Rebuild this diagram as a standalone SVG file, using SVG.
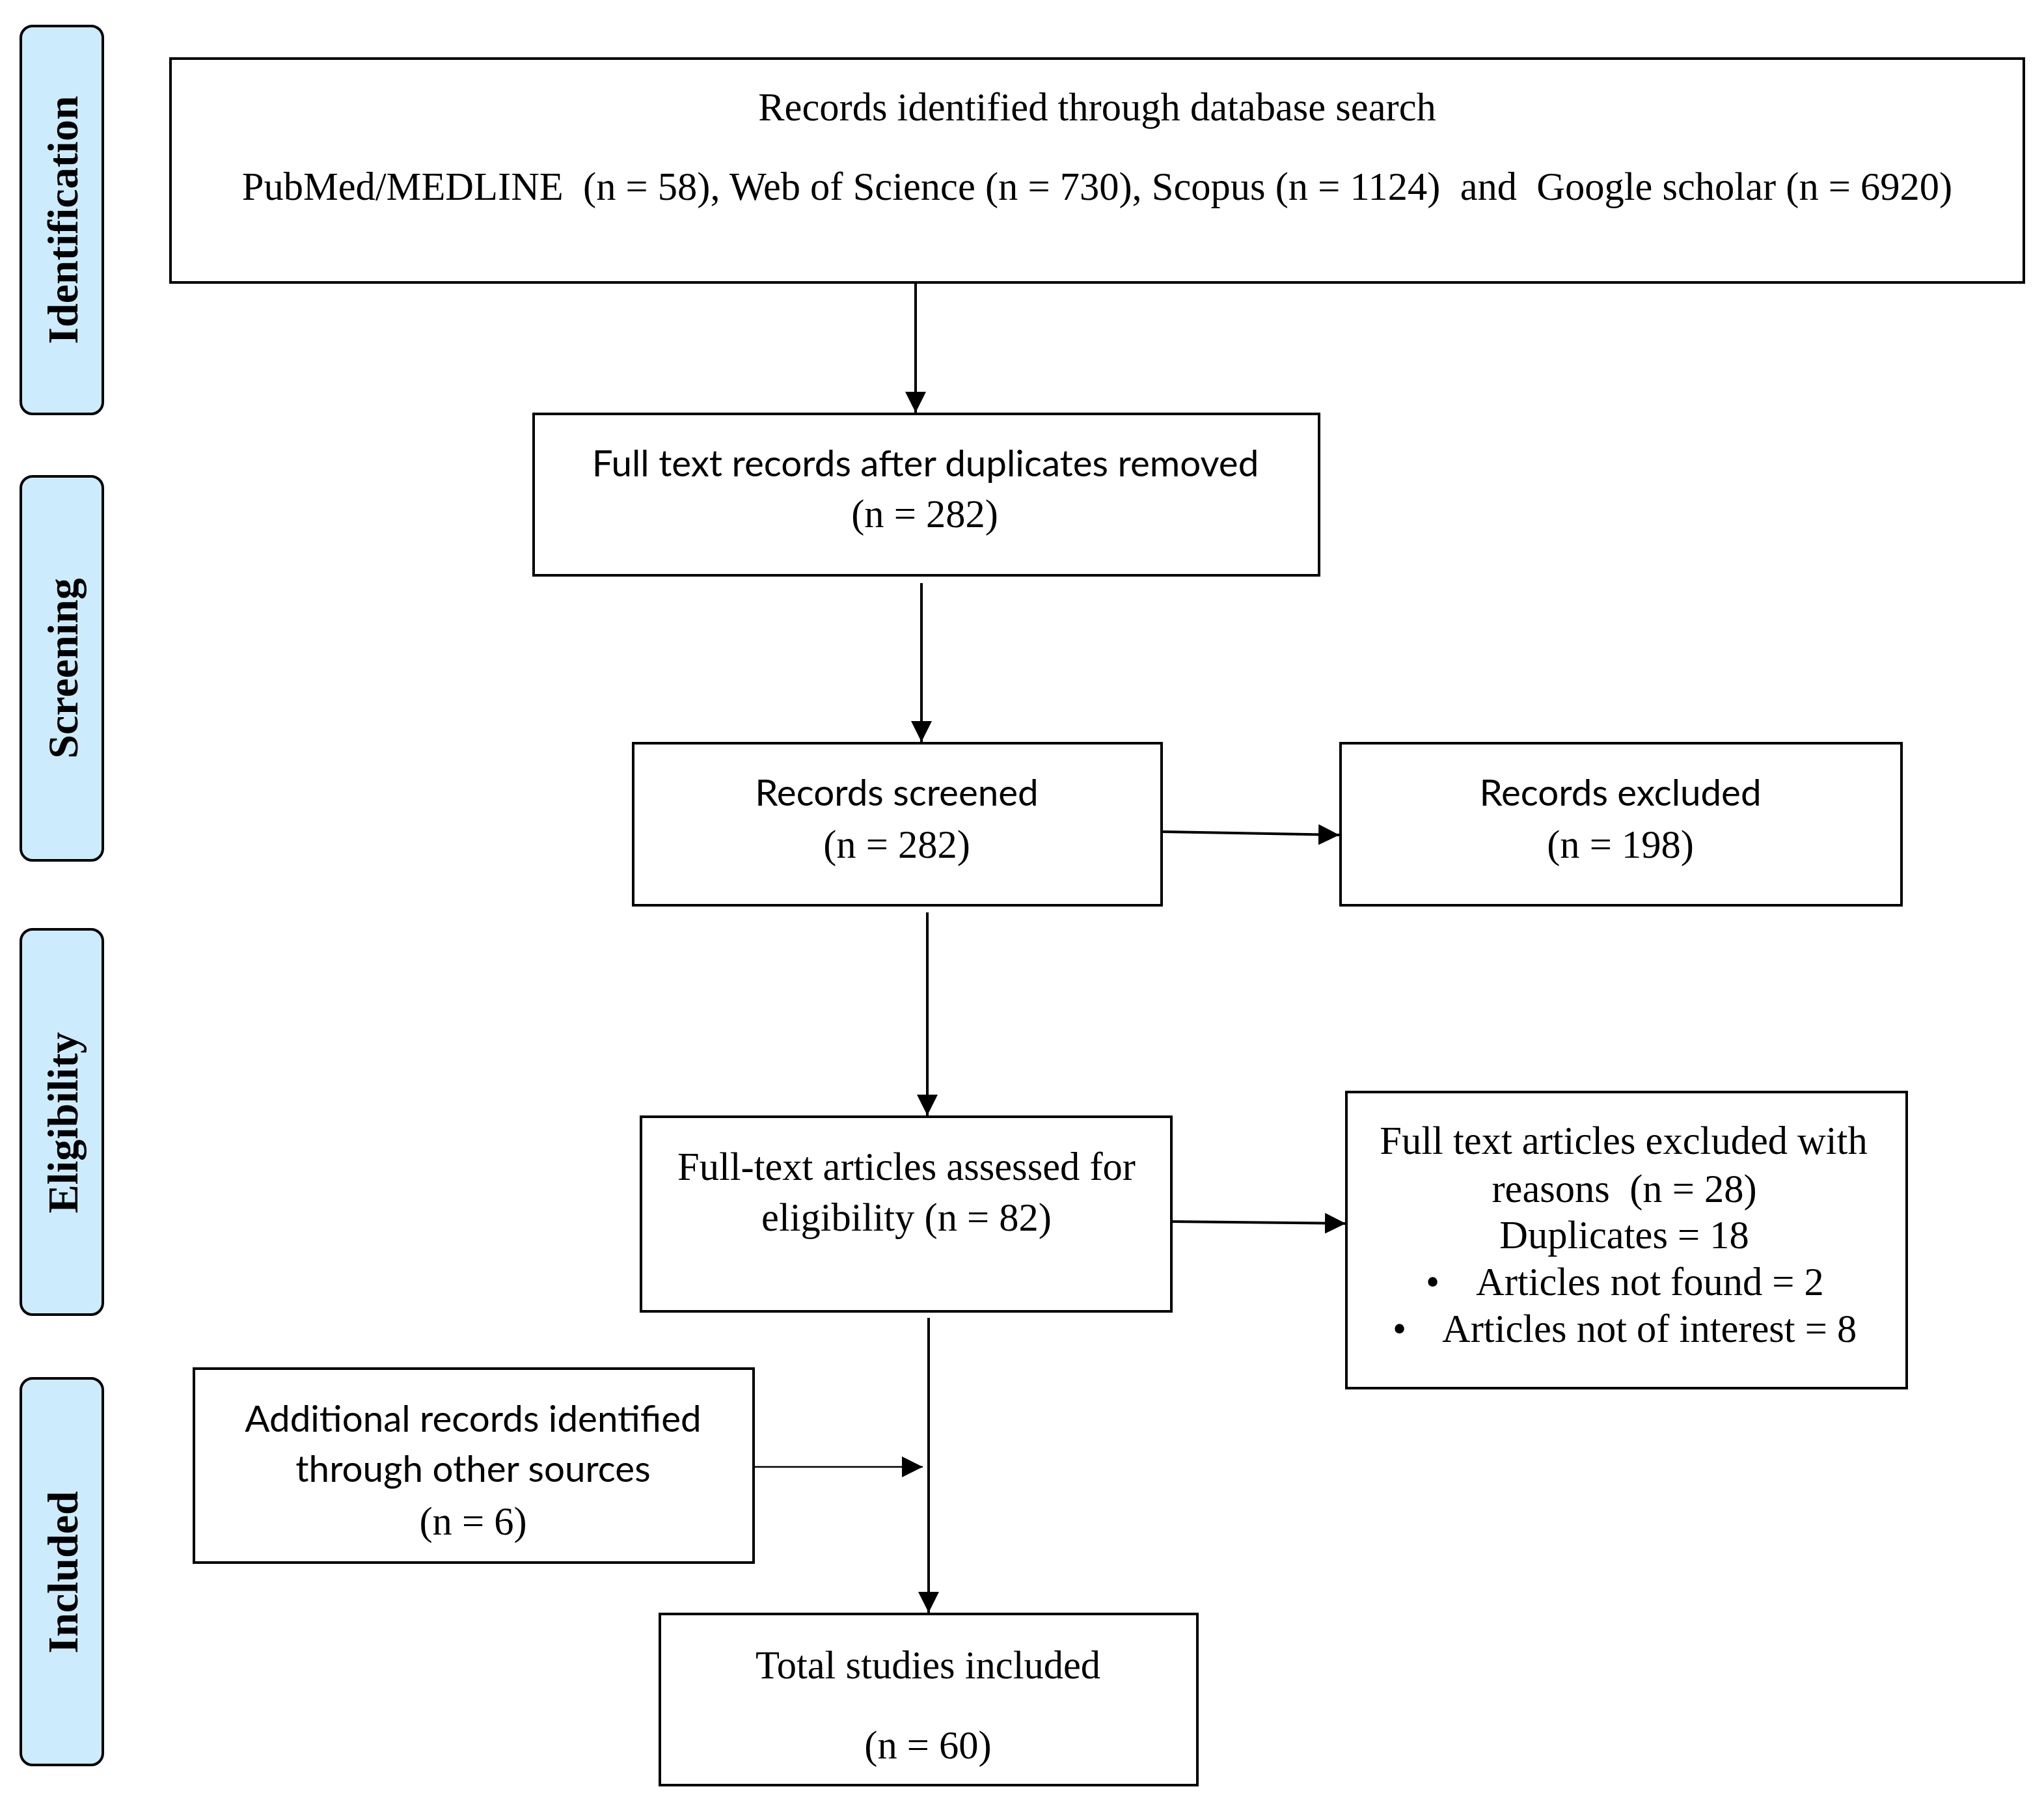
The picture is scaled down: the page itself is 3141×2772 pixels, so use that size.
<svg xmlns="http://www.w3.org/2000/svg" width="3141" height="2772" viewBox="0 0 3141 2772">
<defs>
<style>
.box{fill:#ffffff;stroke:#000000;stroke-width:4}
.side{fill:#CCEBFC;stroke:#000000;stroke-width:4}
.serif{font-family:"Liberation Serif","Times New Roman",serif;font-size:60.5px;fill:#000}
.sans{font-family:Lato,"Open Sans",sans-serif;font-size:56.5px;fill:#000}
.lab{font-family:"Liberation Serif","Times New Roman",serif;font-size:66px;font-weight:bold;fill:#000}
.c{text-anchor:middle}
.conn{stroke:#000;stroke-width:4;fill:none}
.thin{stroke-width:2.5}
</style>
<marker id="ah" markerUnits="userSpaceOnUse" markerWidth="34" markerHeight="34" refX="32" refY="16" orient="auto" viewBox="0 0 34 32">
<path d="M0,0 L32,16 L0,32 Z" fill="#000"/>
</marker>
</defs>
<rect width="3141" height="2772" fill="#ffffff"/>

<g id="phase-identification">
<rect class="side" x="32" y="40" width="126" height="596" rx="18"/>
<text class="lab c" transform="translate(119,338) rotate(-90)">Identification</text>
</g>
<g id="phase-screening">
<rect class="side" x="32" y="732" width="126" height="590" rx="18"/>
<text class="lab c" transform="translate(119,1027) rotate(-90)">Screening</text>
</g>
<g id="phase-eligibility">
<rect class="side" x="32" y="1428" width="126" height="592" rx="18"/>
<text class="lab c" transform="translate(119,1725) rotate(-90)">Eligibility</text>
</g>
<g id="phase-included">
<rect class="side" x="32" y="2118" width="126" height="594" rx="18"/>
<text class="lab c" transform="translate(119,2416) rotate(-90)">Included</text>
</g>

<g id="connectors">
<line class="conn" x1="1407" y1="434" x2="1407" y2="634" marker-end="url(#ah)"/>
<line class="conn" x1="1416" y1="896" x2="1416" y2="1140" marker-end="url(#ah)"/>
<line class="conn" x1="1787" y1="1278" x2="2058" y2="1283" marker-end="url(#ah)"/>
<line class="conn" x1="1425" y1="1402" x2="1425" y2="1714" marker-end="url(#ah)"/>
<line class="conn" x1="1800" y1="1877" x2="2068" y2="1880" marker-end="url(#ah)"/>
<line class="conn thin" x1="1159" y1="2254" x2="1418" y2="2254" marker-end="url(#ah)"/>
<line class="conn" x1="1427" y1="2025" x2="1427" y2="2478" marker-end="url(#ah)"/>
</g>

<g id="n-db">
<rect class="box" x="262" y="90" width="2848" height="344"/>
<text class="serif c" x="1686" y="185">Records identified through database search</text>
<text class="serif c" x="1686" y="307" xml:space="preserve" style="white-space:pre">PubMed/MEDLINE  (n = 58), Web of Science (n = 730), Scopus (n = 1124)  and  Google scholar (n = 6920)</text>
</g>

<g id="n-dup">
<rect class="box" x="820" y="636" width="1207" height="248"/>
<text class="sans c" x="1422" y="732">Full text records after duplicates removed</text>
<text class="serif c" x="1421" y="810">(n = 282)</text>
</g>

<g id="n-screened">
<rect class="box" x="973" y="1142" width="812" height="249"/>
<text class="sans c" x="1378" y="1238">Records screened</text>
<text class="serif c" x="1378" y="1318">(n = 282)</text>
</g>

<g id="n-excluded">
<rect class="box" x="2060" y="1142" width="862" height="249"/>
<text class="sans c" x="2490" y="1238">Records excluded</text>
<text class="serif c" x="2490" y="1318">(n = 198)</text>
</g>

<g id="n-assessed">
<rect class="box" x="985" y="1716" width="815" height="299"/>
<text class="serif c" x="1393" y="1813">Full-text articles assessed for</text>
<text class="serif c" x="1393" y="1891">eligibility (n = 82)</text>
</g>

<g id="n-fulltext-excluded">
<rect class="box" x="2069" y="1678" width="861" height="455"/>
<text class="serif c" x="2495" y="1773">Full text articles excluded with</text>
<text class="serif c" x="2496" y="1847" xml:space="preserve" style="white-space:pre">reasons  (n = 28)</text>
<text class="serif c" x="2496" y="1918">Duplicates = 18</text>
<text class="serif" x="2191" y="1990">•</text>
<text class="serif" x="2268" y="1990">Articles not found = 2</text>
<text class="serif" x="2140" y="2062">•</text>
<text class="serif" x="2216" y="2062">Articles not of interest = 8</text>
</g>

<g id="n-additional">
<rect class="box" x="298" y="2103" width="860" height="298"/>
<text class="sans c" x="727" y="2200">Additional records identified</text>
<text class="sans c" x="727" y="2277">through other sources</text>
<text class="serif c" x="727" y="2358">(n = 6)</text>
</g>

<g id="n-total">
<rect class="box" x="1014" y="2480" width="826" height="263"/>
<text class="serif c" x="1426" y="2579">Total studies included</text>
<text class="serif c" x="1426" y="2702">(n = 60)</text>
</g>
</svg>
